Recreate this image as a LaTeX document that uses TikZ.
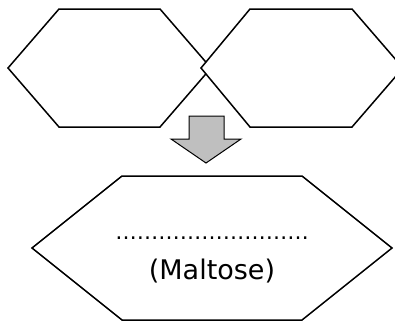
\documentclass[tikz,border=0pt]{standalone}
\usepackage{fontspec}
\setmainfont{DejaVu Sans}

\tikzset{
    hexa/.style={draw, fill=white, line width=1.5pt, line join=miter},
    blockarrow/.style={draw, line width=1pt, fill=gray!50},
}

\begin{document}
\begin{tikzpicture}[x=1pt, y=-1pt]
    \useasboundingbox (0, 0) rectangle (395, 322);
    % first unit
    \coordinate (a0) at (8, 68);
    \coordinate (a1) at (59, 9);
    \coordinate (a2) at (160, 9);
    \coordinate (a3) at (211, 68);
    \coordinate (a4) at (160, 127);
    \coordinate (a5) at (59, 127);
    \draw[hexa] (a0) -- (a1) -- (a2) -- (a3) -- (a4) -- (a5) -- cycle;
    % second unit
    \coordinate (b0) at (201, 68);
    \coordinate (b1) at (250, 9);
    \coordinate (b2) at (352, 9);
    \coordinate (b3) at (403, 68);
    \coordinate (b4) at (352, 127);
    \coordinate (b5) at (250, 127);
    \draw[hexa] (b0) -- (b1) -- (b2) -- (b3) -- (b4) -- (b5) -- cycle;
    % arrow
    \draw[blockarrow] (189, 116) -- (224, 116) -- (224, 139) -- (241, 139)
        -- (206, 163) -- (171, 139) -- (189, 139) -- cycle;
    % product
    \coordinate (c0) at (32, 248);
    \coordinate (c1) at (122, 176);
    \coordinate (c2) at (302, 176);
    \coordinate (c3) at (392, 248);
    \coordinate (c4) at (302, 320);
    \coordinate (c5) at (122, 320);
    \draw[hexa] (c0) -- (c1) -- (c2) -- (c3) -- (c4) -- (c5) -- cycle;
    \node[inner sep=0pt] (blank) at (212, 238) {\fontsize{21.5}{21.5}\selectfont ………………………};
    \node[inner sep=0pt] (name) at (212, 271) {\fontsize{27}{27}\selectfont (Maltose)};
\end{tikzpicture}
\end{document}
